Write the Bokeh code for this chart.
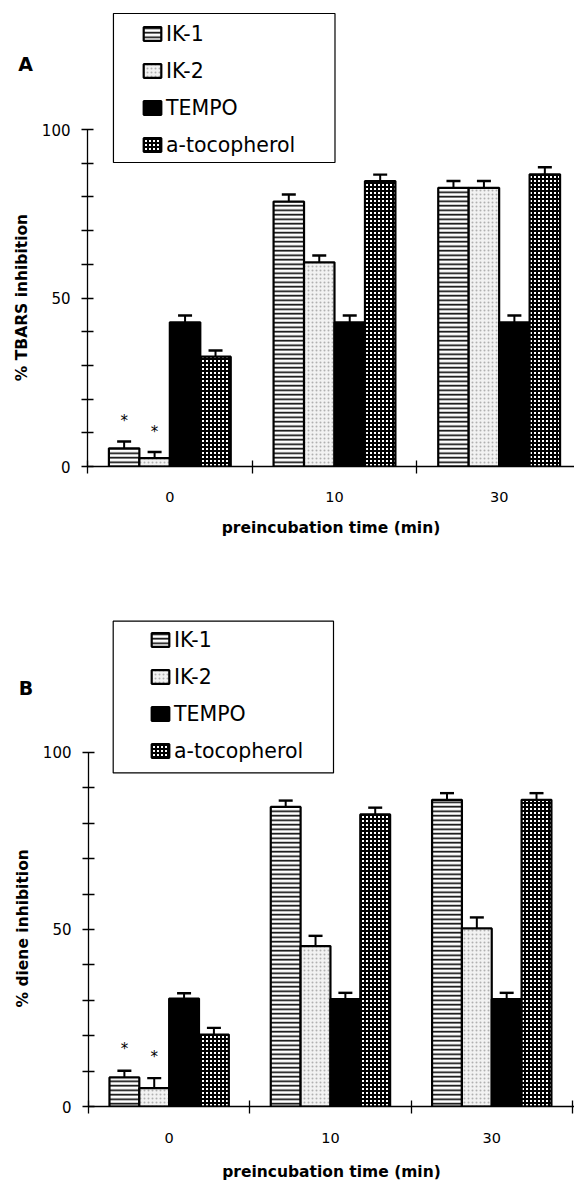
import math
from bokeh.plotting import figure
from bokeh.models import (ColumnDataSource, FixedTicker, Whisker, TeeHead,
                          Legend, LegendItem, BoxAnnotation, Range1d)
from bokeh.layouts import column, row
from bokeh.embed import file_html
from bokeh.resources import INLINE
from bokeh.core.properties import value

# ---------------- data ----------------
times = ["0", "10", "30"]
series = ["IK-1", "IK-2", "TEMPO", "a-tocopherol"]

# Panel A: % TBARS inhibition
A_ik1 = [5.4, 78.6, 82.7]
A_ik2 = [2.5, 60.6, 82.7]
A_tempo = [42.8, 42.8, 42.8]
A_toco = [32.6, 84.7, 86.7]
A_ik1_err = [2.0, 2.1, 2.0]
A_ik2_err = [1.8, 2.0, 2.0]
A_tempo_err = [2.0, 2.0, 2.0]
A_toco_err = [1.8, 1.9, 2.1]
A_star = [[1, 0, 0], [1, 0, 0], [0, 0, 0], [0, 0, 0]]

# Panel B: % diene inhibition
B_ik1 = [8.2, 84.6, 86.6]
B_ik2 = [5.2, 45.3, 50.3]
B_tempo = [30.5, 30.3, 30.3]
B_toco = [20.3, 82.5, 86.6]
B_ik1_err = [1.9, 1.8, 1.9]
B_ik2_err = [2.8, 2.9, 3.1]
B_tempo_err = [1.5, 1.8, 1.8]
B_toco_err = [1.9, 1.9, 1.9]
B_star = [[1, 0, 0], [1, 0, 0], [0, 0, 0], [0, 0, 0]]

y_major = [0, 50, 100]
y_minor = [10, 20, 30, 40, 60, 70, 80, 90]

FONT = "DejaVu Sans"
PAGE_W = 574
TEXT_W = 38

styles = [
    dict(fill_color="white", hatch_pattern="horizontal_line", hatch_color="black",
         hatch_scale=4.5, hatch_weight=1.6),
    dict(fill_color="#f2f2f2", hatch_pattern="dot", hatch_color="#b0b0b0",
         hatch_scale=4, hatch_weight=0.7),
    dict(fill_color="black"),
    dict(fill_color="white", hatch_pattern="cross", hatch_color="black",
         hatch_scale=4, hatch_weight=2),
]


def make_panel(letter, vals_list, errs_list, star_flags, ytitle, geo):
    fig_h = geo["fig_h"]
    W = PAGE_W - TEXT_W
    fl = geo["frame_left"]
    fb = geo["frame_bottom"]
    ft = geo["frame_top"]
    top = ft - geo["page_top"]
    frame_h = fb - ft
    bottom = fig_h - top - frame_h
    left = fl - TEXT_W
    frame_w = W - left
    cat_px, unit_px = geo["cat_px"], geo["unit_px"]

    def dx(px):
        return (px - fl) / cat_px

    def dy(py):
        return (fb - py) / unit_px

    p = figure(width=W, height=fig_h, x_range=Range1d(0, frame_w / cat_px),
               y_range=Range1d(0, frame_h / unit_px), output_backend="svg",
               toolbar_location=None, title=None, min_border_left=left,
               min_border_right=0, min_border_top=top, min_border_bottom=bottom)
    p.xgrid.visible = False
    p.ygrid.visible = False
    p.outline_line_color = None

    bw = 0.185
    items = []
    for i, s in enumerate(series):
        vals = vals_list[i]
        errs = errs_list[i]
        xs = [j + 0.5 + (i - 1.5) * bw for j in range(len(times))]
        src = ColumnDataSource(dict(x=xs, top=vals, lo=vals,
                                    hi=[v + e for v, e in zip(vals, errs)]))
        r = p.vbar(x="x", top="top", bottom=0, width=bw, source=src,
                   line_color="black", line_width=2.2, **styles[i])
        p.add_layout(Whisker(source=src, base="x", lower="lo", upper="hi",
                             lower_head=None,
                             upper_head=TeeHead(size=14, line_width=2.4, line_color="black"),
                             line_width=2, line_color="black"))
        items.append(LegendItem(label=s, renderers=[r]))
        sx = [xs[j] for j in range(len(times)) if star_flags[i][j]]
        sy = [vals[j] + errs[j] + 6 for j in range(len(times)) if star_flags[i][j]]
        if sx:
            p.text(x=sx, y=sy, text=["*"] * len(sx), text_font=value(FONT),
                   text_font_size="15px", text_align="center", text_baseline="middle",
                   text_color="black")

    # axes
    xa = p.xaxis[0]
    xa.ticker = FixedTicker(ticks=[0.5, 1.5, 2.5], minor_ticks=[0, 1, 2, 3])
    xa.major_label_overrides = {0.5: times[0], 1.5: times[1], 2.5: times[2]}
    xa.major_tick_in = 0
    xa.major_tick_out = 0
    xa.minor_tick_in = 6
    xa.minor_tick_out = 7
    xa.minor_tick_line_width = 1.3
    xa.axis_line_width = 1.3
    xa.major_label_standoff = geo["xstand"]
    xa.major_label_text_font = FONT
    xa.major_label_text_font_size = "14.5px"
    xa.major_label_text_color = "black"
    xa.axis_label = "preincubation time (min)"
    xa.axis_label_text_font = FONT
    xa.axis_label_text_font_style = "bold"
    xa.axis_label_text_font_size = "15.5px"
    xa.axis_label_text_color = "black"
    xa.axis_label_standoff = geo["title_stand"]

    ya = p.yaxis[0]
    ya.ticker = FixedTicker(ticks=y_major, minor_ticks=y_minor)
    ya.bounds = (0, 100)
    ya.major_tick_in = 6
    ya.major_tick_out = 6
    ya.minor_tick_in = 6
    ya.minor_tick_out = 6
    ya.major_tick_line_width = 1.3
    ya.minor_tick_line_width = 1.3
    ya.axis_line_width = 1.3
    ya.major_label_standoff = 11
    ya.major_label_text_font = FONT
    ya.major_label_text_font_size = "15px"
    ya.major_label_text_color = "black"

    # legend
    bx0, by0, bx1, by1 = geo["box"]
    p.add_layout(BoxAnnotation(left=dx(bx0), right=dx(bx1), top=dy(by0), bottom=dy(by1),
                               fill_alpha=0, line_color="black", line_alpha=1,
                               line_width=1.2))
    leg = Legend(items=items, location=(geo["leg_x"], geo["leg_y"]), padding=0, margin=0,
                 border_line_color=None, background_fill_alpha=0,
                 label_text_font=FONT, label_text_font_size="20.5px",
                 label_text_color="black",
                 glyph_width=22, glyph_height=17, label_height=25,
                 label_standoff=3, spacing=12)
    p.add_layout(leg)

    # left text strip (frame aligned with the main frame): letter and rotated y title
    tf = figure(width=TEXT_W, height=fig_h, x_range=Range1d(0, TEXT_W),
                y_range=Range1d(-fb, -ft), x_axis_type=None, y_axis_type=None,
                output_backend="svg", toolbar_location=None, title=None,
                min_border_left=0, min_border_right=0,
                min_border_top=top, min_border_bottom=bottom)
    tf.outline_line_color = None
    tf.xgrid.visible = False
    tf.ygrid.visible = False
    lx, ly = geo["letter"]
    tf.text(x=[lx], y=[-ly], text=[letter],
            text_font=value(FONT), text_font_style="bold", text_font_size="19px",
            text_align="center", text_baseline="middle", text_color="black")
    tx, ty = geo["ytitle"]
    tf.text(x=[tx], y=[-ty], text=[ytitle], angle=math.pi / 2,
            text_font=value(FONT), text_font_style="bold", text_font_size="15.5px",
            text_align="center", text_baseline="middle", text_color="black")
    return row(tf, p, spacing=0)


geoA = dict(page_top=0, fig_h=592, frame_top=2, frame_bottom=466, frame_left=86,
            cat_px=165.0, unit_px=3.37, xstand=18, title_stand=14,
            box=(112, 13, 334, 162), leg_x=54, leg_y=309,
            letter=(25, 63.5), ytitle=(21, 297))
geoB = dict(page_top=592, fig_h=591, frame_top=618, frame_bottom=1111, frame_left=88,
            cat_px=161.3, unit_px=3.577, xstand=19, title_stand=17,
            box=(112.7, 620.7, 333, 774), leg_x=61, leg_y=343,
            letter=(25.5, 688), ytitle=(22, 931))

pA = make_panel("A", [A_ik1, A_ik2, A_tempo, A_toco],
                [A_ik1_err, A_ik2_err, A_tempo_err, A_toco_err], A_star,
                "% TBARS inhibition", geoA)
pB = make_panel("B", [B_ik1, B_ik2, B_tempo, B_toco],
                [B_ik1_err, B_ik2_err, B_tempo_err, B_toco_err], B_star,
                "% diene inhibition", geoB)

layout = column(pA, pB, spacing=0)
open("out.html", "w").write(file_html(layout, INLINE))
